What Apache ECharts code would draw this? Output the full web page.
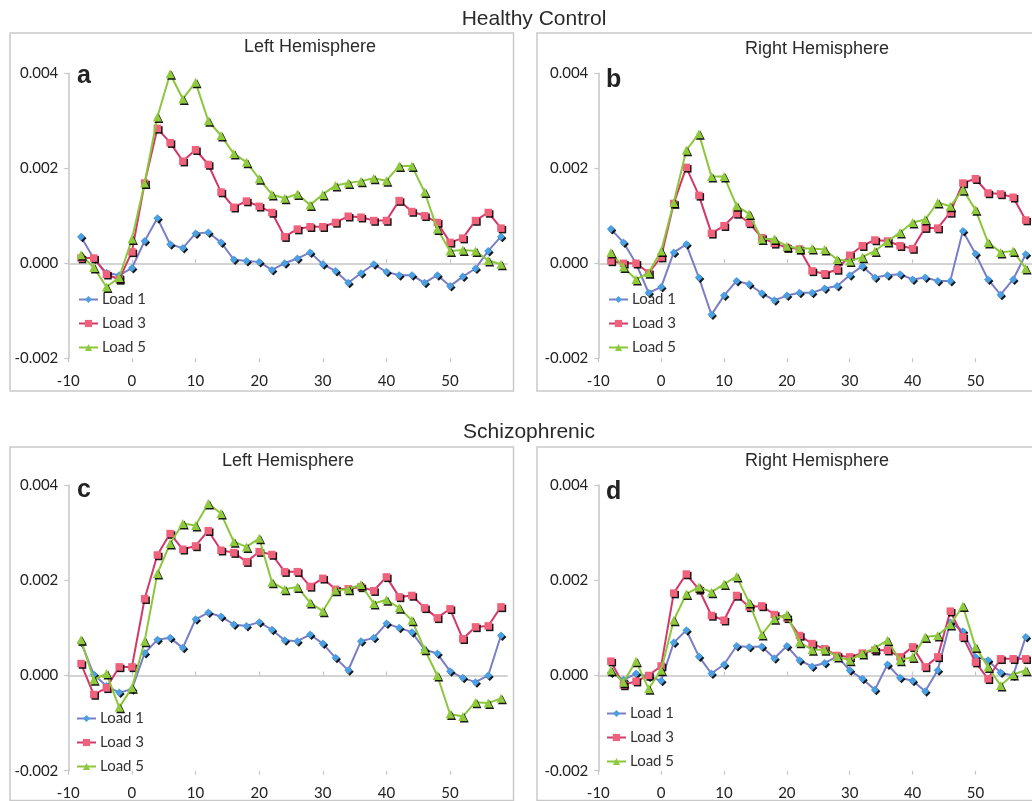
<!DOCTYPE html>
<html>
<head>
<meta charset="utf-8">
<script src="https://cdn.jsdelivr.net/npm/echarts@6/dist/echarts.min.js"></script>
<style>
html,body{margin:0;padding:0;background:#fff;}
#chart{width:1032px;height:801px;}
</style>
</head>
<body>
<div id="chart"></div>
<script>
// ---------------- DATA ----------------
const timePoints = [-8,-6,-4,-2,0,2,4,6,8,10,12,14,16,18,20,22,24,26,28,30,32,34,36,38,40,42,44,46,48,50,52,54,56,58];
const xTickLabels = [-10,0,10,20,30,40,50];
const loadNames = ['Load 1','Load 3','Load 5'];
const groupTitles = ['Healthy Control','Schizophrenic'];
const hemisphereTitles = ['Left Hemisphere','Right Hemisphere'];
const panelLetters = ['a','b','c','d'];

// Healthy control, left hemisphere (a)
const hcLeftLoad1 = [0.00056,0.00010,-0.00020,-0.00025,-0.00010,0.00047,0.00095,0.00040,0.00032,0.00063,0.00065,0.00044,0.00008,0.00005,0.00003,-0.00014,0.00000,0.00010,0.00023,-0.00002,-0.00016,-0.00041,-0.00021,-0.00002,-0.00018,-0.00025,-0.00025,-0.00041,-0.00025,-0.00048,-0.00028,-0.00011,0.00026,0.00056];
const hcLeftLoad3 = [0.00011,0.00011,-0.00023,-0.00034,0.00024,0.00169,0.00284,0.00254,0.00215,0.00239,0.00208,0.00150,0.00118,0.00131,0.00120,0.00107,0.00056,0.00072,0.00077,0.00077,0.00086,0.00099,0.00097,0.00090,0.00090,0.00132,0.00109,0.00100,0.00086,0.00044,0.00053,0.00090,0.00107,0.00074];
const hcLeftLoad5 = [0.00018,-0.00009,-0.00050,-0.00030,0.00051,0.00169,0.00308,0.00399,0.00346,0.00381,0.00300,0.00269,0.00231,0.00213,0.00178,0.00145,0.00137,0.00146,0.00123,0.00145,0.00164,0.00169,0.00173,0.00179,0.00174,0.00205,0.00205,0.00150,0.00072,0.00026,0.00028,0.00026,0.00006,-0.00002];

// Healthy control, right hemisphere (b)
const hcRightLoad1 = [0.00072,0.00044,0.00000,-0.00062,-0.00050,0.00023,0.00040,-0.00030,-0.00108,-0.00068,-0.00037,-0.00044,-0.00063,-0.00078,-0.00068,-0.00062,-0.00062,-0.00053,-0.00048,-0.00025,-0.00006,-0.00030,-0.00025,-0.00023,-0.00034,-0.00030,-0.00037,-0.00037,0.00068,0.00020,-0.00034,-0.00066,-0.00034,0.00019];
const hcRightLoad3 = [0.00005,0.00000,0.00000,-0.00020,0.00013,0.00126,0.00202,0.00143,0.00063,0.00079,0.00105,0.00085,0.00054,0.00042,0.00033,0.00030,-0.00016,-0.00022,-0.00013,0.00017,0.00037,0.00049,0.00047,0.00037,0.00031,0.00075,0.00074,0.00107,0.00169,0.00178,0.00148,0.00146,0.00139,0.00091];
const hcRightLoad5 = [0.00023,-0.00008,-0.00034,-0.00020,0.00026,0.00128,0.00238,0.00273,0.00183,0.00183,0.00121,0.00104,0.00051,0.00051,0.00036,0.00031,0.00031,0.00029,0.00008,0.00005,0.00013,0.00026,0.00046,0.00065,0.00086,0.00092,0.00128,0.00120,0.00155,0.00113,0.00044,0.00023,0.00026,-0.00011];

// Schizophrenic, left hemisphere (c)
const szLeftLoad1 = [0.00070,0.00002,-0.00022,-0.00036,-0.00029,0.00047,0.00075,0.00079,0.00058,0.00118,0.00132,0.00124,0.00107,0.00104,0.00112,0.00096,0.00074,0.00072,0.00086,0.00067,0.00037,0.00011,0.00072,0.00079,0.00109,0.00100,0.00091,0.00054,0.00046,0.00009,-0.00005,-0.00014,0.00000,0.00084];
const szLeftLoad3 = [0.00025,-0.00040,-0.00026,0.00018,0.00018,0.00161,0.00253,0.00298,0.00265,0.00272,0.00304,0.00263,0.00258,0.00239,0.00260,0.00254,0.00218,0.00218,0.00187,0.00204,0.00181,0.00182,0.00186,0.00178,0.00207,0.00165,0.00168,0.00142,0.00121,0.00140,0.00077,0.00102,0.00104,0.00144];
const szLeftLoad5 = [0.00075,-0.00009,0.00004,-0.00067,-0.00026,0.00072,0.00214,0.00277,0.00319,0.00315,0.00361,0.00340,0.00281,0.00270,0.00288,0.00196,0.00181,0.00186,0.00153,0.00135,0.00179,0.00181,0.00191,0.00151,0.00159,0.00142,0.00116,0.00055,0.00000,-0.00081,-0.00086,-0.00056,-0.00058,-0.00048];

// Schizophrenic, right hemisphere (d)
const szRightLoad1 = [0.00006,-0.00009,0.00004,-0.00002,-0.00011,0.00069,0.00095,0.00040,0.00004,0.00023,0.00062,0.00060,0.00061,0.00036,0.00062,0.00032,0.00019,0.00026,0.00040,0.00011,-0.00007,-0.00030,0.00023,-0.00005,-0.00011,-0.00033,0.00011,0.00112,0.00093,0.00039,0.00032,0.00006,0.00000,0.00081];
const szRightLoad3 = [0.00030,-0.00020,-0.00012,0.00000,0.00020,0.00173,0.00213,0.00181,0.00126,0.00116,0.00168,0.00144,0.00146,0.00128,0.00121,0.00084,0.00067,0.00056,0.00042,0.00039,0.00047,0.00053,0.00053,0.00039,0.00060,0.00018,0.00039,0.00135,0.00081,0.00028,-0.00007,0.00035,0.00035,0.00035];
const szRightLoad5 = [0.00011,-0.00014,0.00030,-0.00028,0.00011,0.00116,0.00171,0.00186,0.00175,0.00192,0.00208,0.00153,0.00086,0.00119,0.00128,0.00070,0.00054,0.00054,0.00040,0.00032,0.00046,0.00058,0.00074,0.00032,0.00039,0.00081,0.00084,0.00107,0.00146,0.00060,0.00018,-0.00021,0.00002,0.00011];

// ---------------- LAYOUT / STYLE ----------------
const panels = [
  {series:[hcLeftLoad1,hcLeftLoad3,hcLeftLoad5],  grid:{left:68.3,top:73.3,width:439,height:285},  frame:[10,33,503.5,358],  title:[310,47],  letter:[77,76],  legend:[78,292]},
  {series:[hcRightLoad1,hcRightLoad3,hcRightLoad5],grid:{left:598.3,top:73.3,width:439,height:285}, frame:[537,33,530,358],   title:[817,49],  letter:[606,80],  legend:[608,292]},
  {series:[szLeftLoad1,szLeftLoad3,szLeftLoad5],  grid:{left:68.3,top:485,width:439,height:285.7}, frame:[10,447,503.5,353.5],title:[288,461], letter:[77,490], legend:[76,711]},
  {series:[szRightLoad1,szRightLoad3,szRightLoad5],grid:{left:598.3,top:485,width:439,height:285.7},frame:[537,447,530,353.5], title:[817,461], letter:[606,492], legend:[606,706]}
];
const lineColors = ['#7a7ec6','#d3386a','#8cc63c'];
const markerColors = ['#4aa0e2','#f0627c','#8fca3e'];
const symbols = ['diamond','rect','triangle'];
const symbolSizes = [8,7.5,9];
const axisGray = '#c6c6c6';

const grids = [], xAxes = [], yAxes = [], series = [], legends = [], graphics = [];

panels.forEach((p, g) => {
  grids.push(Object.assign({containLabel:false}, p.grid));
  // bottom label axis
  xAxes.push({
    type:'value', gridIndex:g, min:-10, max:59, interval:10, position:'bottom',
    axisLine:{show:false, onZero:false}, axisTick:{show:false}, splitLine:{show:false},
    axisLabel:{customValues:xTickLabels, margin:15, fontFamily:'Lato', fontSize:15, color:'#222'}
  });
  // zero line axis, ticks upward
  xAxes.push({
    type:'value', gridIndex:g, min:-10, max:59, interval:10, position:'bottom',
    axisLine:{show:true, onZero:true, lineStyle:{color:axisGray, width:1.5}},
    axisTick:{show:true, inside:true, length:4, customValues:xTickLabels, lineStyle:{color:axisGray, width:1.2}},
    axisLabel:{show:false}, splitLine:{show:false}
  });
  // zero line axis, ticks downward
  xAxes.push({
    type:'value', gridIndex:g, min:-10, max:59, interval:10, position:'bottom',
    axisLine:{show:false, onZero:true},
    axisTick:{show:true, inside:false, length:4, customValues:xTickLabels, lineStyle:{color:axisGray, width:1.2}},
    axisLabel:{show:false}, splitLine:{show:false}
  });
  yAxes.push({
    type:'value', gridIndex:g, min:-0.002, max:0.004, interval:0.002, position:'left',
    axisLine:{show:true, onZero:false, lineStyle:{color:axisGray, width:1.5}},
    axisTick:{show:true, length:4, lineStyle:{color:axisGray, width:1.2}},
    splitLine:{show:false},
    axisLabel:{margin:10, fontFamily:'Lato', fontSize:15, color:'#222',
      formatter:v => Math.abs(v) < 1e-9 ? '0.000' : v.toFixed(3)}
  });
  p.series.forEach((vals, k) => {
    series.push({
      name:loadNames[k], type:'line', xAxisIndex:3*g+1, yAxisIndex:g,
      data:timePoints.map((t,i) => [t, vals[i]]),
      symbol:symbols[k], symbolSize:symbolSizes[k], showSymbol:true,
      lineStyle:{color:lineColors[k], width:2},
      itemStyle:{color:markerColors[k], shadowColor:'rgba(0,0,0,0.9)', shadowOffsetX:1.5, shadowOffsetY:1.5, shadowBlur:0},
      emphasis:{disabled:true}, animation:false, z:2+k
    });
  });
  legends.push({
    data:loadNames, orient:'vertical', left:p.legend[0], top:p.legend[1],
    itemWidth:19, itemHeight:9, itemGap:9, padding:0, selectedMode:false,
    textStyle:{fontFamily:'Lato', fontSize:15, color:'#333', lineHeight:14, padding:[0,0,0,-1]}
  });
  graphics.push({type:'rect', shape:{x:p.frame[0], y:p.frame[1], width:p.frame[2], height:p.frame[3]},
    style:{fill:null, stroke:'#c9c9c9', lineWidth:1.5}, z:-1});
  graphics.push({type:'text', x:p.title[0], y:p.title[1],
    style:{text:hemisphereTitles[g % 2], fontFamily:'Liberation Sans', fontSize:18, fill:'#2a2a2a', textAlign:'center', textVerticalAlign:'middle'}});
  graphics.push({type:'text', x:p.letter[0], y:p.letter[1],
    style:{text:panelLetters[g], fontFamily:'Liberation Sans', fontWeight:'bold', fontSize:25, fill:'#222', textAlign:'left', textVerticalAlign:'middle'}});
});

graphics.push({type:'text', x:534, y:19, style:{text:groupTitles[0], fontFamily:'Liberation Sans', fontSize:21, fill:'#2a2a2a', textAlign:'center', textVerticalAlign:'middle'}});
graphics.push({type:'text', x:529, y:432, style:{text:groupTitles[1], fontFamily:'Liberation Sans', fontSize:21, fill:'#2a2a2a', textAlign:'center', textVerticalAlign:'middle'}});

const chart = echarts.init(document.getElementById('chart'), null, {renderer:'canvas'});
chart.setOption({
  backgroundColor:'#ffffff',
  animation:false,
  grid:grids, xAxis:xAxes, yAxis:yAxes, series:series, legend:legends,
  graphic:{elements:graphics}
});
</script>
</body>
</html>
